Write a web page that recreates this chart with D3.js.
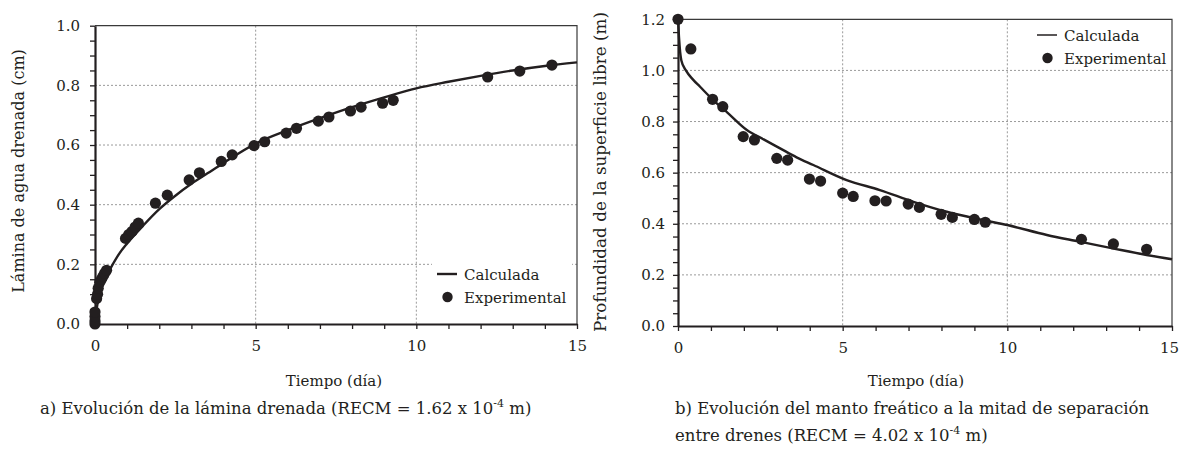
<!DOCTYPE html>
<html>
<head>
<meta charset="utf-8">
<script src="https://cdn.jsdelivr.net/npm/d3@7"></script>
<style>
  body { margin: 0; background: #fff; }
  svg text { font-family: "DejaVu Serif", serif; fill: #231f20; }
  .axis path, .axis line { stroke: #231f20; }
  .axis text { font-size: 15px; }
</style>
</head>
<body>
<svg id="fig" width="1180" height="461"></svg>
<script>
// ---- data ----
// a) drained depth (cm) vs time (days)
const timeA = [0, 0, 0, 0, 0.05, 0.08, 0.1, 0.15, 0.2, 0.25, 0.3, 0.36,
  0.95, 1.05, 1.15, 1.25, 1.35, 1.88, 2.25, 2.93, 3.25, 3.93, 4.27, 4.95, 5.28,
  5.95, 6.27, 6.95, 7.28, 7.95, 8.28, 8.95, 9.28, 12.22, 13.22, 14.22];
const laminaExp = [0, 0.01, 0.025, 0.04, 0.085, 0.1, 0.12, 0.14, 0.15, 0.16, 0.17, 0.18,
  0.287, 0.3, 0.31, 0.325, 0.338, 0.405, 0.432, 0.483, 0.507, 0.545, 0.567, 0.598, 0.611,
  0.64, 0.656, 0.68, 0.694, 0.714, 0.727, 0.74, 0.75, 0.828, 0.848, 0.868];
const timeCalcA = [0, 0.02, 0.05, 0.1, 0.2, 0.3, 0.5, 0.75, 1, 1.5, 2, 2.5, 3, 3.5, 4,
  5, 6, 7, 8, 9, 10, 11, 12, 13, 14, 15];
const laminaCalc = [0, 0.03, 0.05, 0.08, 0.12, 0.15, 0.19, 0.235, 0.27, 0.33, 0.385, 0.43,
  0.47, 0.505, 0.54, 0.605, 0.65, 0.69, 0.727, 0.76, 0.79, 0.812, 0.832, 0.85, 0.865, 0.877];

// b) water table depth (m) vs time (days)
const timeB = [0, 0.39, 1.05, 1.36, 1.98, 2.32, 3.0, 3.33, 3.99, 4.33, 5.0, 5.32, 5.98, 6.32,
  6.99, 7.33, 7.99, 8.33, 9.0, 9.33, 12.25, 13.22, 14.23];
const profExp = [1.2, 1.084, 0.887, 0.858, 0.741, 0.728, 0.656, 0.649, 0.575, 0.567, 0.52, 0.507,
  0.49, 0.489, 0.477, 0.464, 0.437, 0.425, 0.417, 0.406, 0.339, 0.321, 0.3];
const timeCalcB = [0, 0.03, 0.1, 0.24, 0.45, 0.67, 1.07, 1.5, 2.09, 2.6, 3.1, 3.6, 4.11, 5.12,
  6.13, 7.15, 8.16, 9.17, 10, 11.2, 12.2, 13.2, 14.23, 15];
const profCalc = [1.2, 1.13, 1.04, 1.0, 0.965, 0.936, 0.884, 0.835, 0.767, 0.73, 0.695, 0.66, 0.63,
  0.571, 0.532, 0.486, 0.447, 0.417, 0.395, 0.356, 0.33, 0.304, 0.278, 0.261];

const xTicks = d3.range(0, 16, 1);
const xLabels = [0, 5, 10, 15];
const yTicksA = d3.range(0, 1.0001, 0.05);
const yTicksB = d3.range(0, 1.2001, 0.05);
const yMajorA = [0, 0.2, 0.4, 0.6, 0.8, 1.0];
const yMajorB = [0, 0.2, 0.4, 0.6, 0.8, 1.0, 1.2];

const svg = d3.select("#fig");
const ink = "#231f20";

function isMajor(v, majors){
  return majors.some(m => Math.abs(m - v) < 1e-6);
}

function panel(opt){
  const x = d3.scaleLinear().domain([0, 15]).range([opt.left, opt.right]);
  const y = d3.scaleLinear().domain([0, opt.yMax]).range([opt.bottom, opt.top]);
  const g = svg.append("g");

  // dotted grid
  g.selectAll(".gx").data([5, 10]).enter().append("line")
    .attr("x1", d => x(d)).attr("x2", d => x(d))
    .attr("y1", opt.top).attr("y2", opt.bottom)
    .attr("stroke", "#9a9a9a").attr("stroke-dasharray", "2,2");
  g.selectAll(".gy").data(opt.yMajor.filter(d => d > 0 && d < opt.yMax)).enter().append("line")
    .attr("x1", opt.left).attr("x2", opt.right)
    .attr("y1", d => y(d)).attr("y2", d => y(d))
    .attr("stroke", "#9a9a9a").attr("stroke-dasharray", "2,2");

  // top / right frame
  g.append("path")
    .attr("d", `M${opt.left},${opt.top}H${opt.right}V${opt.bottom}`)
    .attr("fill", "none").attr("stroke", "#3a3a3a").attr("stroke-width", 1.2);

  // legend box (covers grid)
  if (opt.legendBox){
    g.append("rect").attr("x", opt.legendBox[0]).attr("y", opt.legendBox[1])
      .attr("width", opt.legendBox[2]).attr("height", opt.legendBox[3]).attr("fill", "#fff");
  }

  // axes
  const ax = g.append("g").attr("class", "axis")
    .attr("transform", `translate(0,${opt.bottom})`)
    .call(d3.axisBottom(x).tickValues(xTicks).tickSize(5).tickSizeOuter(0).tickPadding(6)
      .tickFormat(d => xLabels.includes(d) ? d : ""));
  const ay = g.append("g").attr("class", "axis")
    .attr("transform", `translate(${opt.left},0)`)
    .call(d3.axisLeft(y).tickValues(opt.yTicks).tickSize(5).tickSizeOuter(0).tickPadding(opt.yPad)
      .tickFormat(d => isMajor(d, opt.yMajor) ? d3.format(".1f")(d) : ""));
  [ax, ay].forEach(a => {
    a.select(".domain").attr("stroke-width", 2.2);
    a.selectAll(".tick line").attr("stroke-width", 1.3);
    a.selectAll("text").attr("fill", ink);
  });
  ax.selectAll("text").attr("dy", "1.05em");
  // keep the last label inside the page
  ax.selectAll(".tick text").filter(d => d === 15).attr("dx", opt.lastDx);

  // calculated line
  const line = d3.line().x(d => x(d[0])).y(d => y(d[1])).curve(d3.curveMonotoneX);
  g.append("path").datum(d3.zip(opt.tc, opt.vc))
    .attr("d", line).attr("fill", "none").attr("stroke", ink).attr("stroke-width", 2.4);

  // experimental points
  g.selectAll(".pt").data(d3.zip(opt.te, opt.ve)).enter().append("circle")
    .attr("cx", d => x(d[0])).attr("cy", d => y(d[1])).attr("r", 5.6).attr("fill", ink);

  // legend
  const L = opt.legend;
  g.append("line").attr("x1", L.x).attr("x2", L.x + 20).attr("y1", L.y).attr("y2", L.y)
    .attr("stroke", ink).attr("stroke-width", opt.legendLineW);
  g.append("text").attr("x", L.x + 27).attr("y", L.y + 5.5).attr("font-size", 15).text("Calculada");
  g.append("circle").attr("cx", L.x + 10.5).attr("cy", L.y + 23).attr("r", 5.2).attr("fill", ink);
  g.append("text").attr("x", L.x + 27).attr("y", L.y + 29).attr("font-size", 15).text("Experimental");

  // axis titles
  svg.append("text").attr("x", opt.xTitleX).attr("y", 386).attr("text-anchor", "middle")
    .attr("font-size", 15).text("Tiempo (día)");
  svg.append("text").attr("transform", `translate(${opt.yTitleX},${opt.yTitleY}) rotate(-90)`)
    .attr("text-anchor", "middle").attr("font-size", opt.yTitleSize).text(opt.yTitle);
}

panel({
  left: 95, right: 577, top: 25.7, bottom: 324, yMax: 1.0,
  yTicks: yTicksA, yMajor: yMajorA, yPad: 10, lastDx: 0,
  te: timeA, ve: laminaExp, tc: timeCalcA, vc: laminaCalc,
  legend: {x: 437, y: 274}, legendLineW: 2.4, legendBox: [432, 259, 140, 54],
  xTitleX: 334, yTitleX: 24, yTitleY: 171, yTitleSize: 16, yTitle: "Lámina de agua drenada (cm)"
});

panel({
  left: 678, right: 1172, top: 19.3, bottom: 326, yMax: 1.2,
  yTicks: yTicksB, yMajor: yMajorB, yPad: 8, lastDx: -3,
  te: timeB, ve: profExp, tc: timeCalcB, vc: profCalc,
  legend: {x: 1037, y: 35}, legendLineW: 1.5, legendBox: null,
  xTitleX: 916, yTitleX: 606, yTitleY: 172, yTitleSize: 16.8, yTitle: "Profundidad de la superficie libre (m)"
});

// captions
const capA = svg.append("text").attr("x", 40).attr("y", 414).attr("font-size", 16.5);
capA.append("tspan").text("a) Evolución de la lámina drenada (RECM = 1.62 x 10");
capA.append("tspan").attr("dy", -7).attr("font-size", 11).text("-4");
capA.append("tspan").attr("dy", 7).text(" m)");

svg.append("text").attr("x", 675).attr("y", 414).attr("font-size", 16.5)
  .text("b) Evolución del manto freático a la mitad de separación");
const capB = svg.append("text").attr("x", 675).attr("y", 441).attr("font-size", 16.5);
capB.append("tspan").text("entre drenes (RECM = 4.02 x 10");
capB.append("tspan").attr("dy", -7).attr("font-size", 11).text("-4");
capB.append("tspan").attr("dy", 7).text(" m)");
</script>
</body>
</html>
